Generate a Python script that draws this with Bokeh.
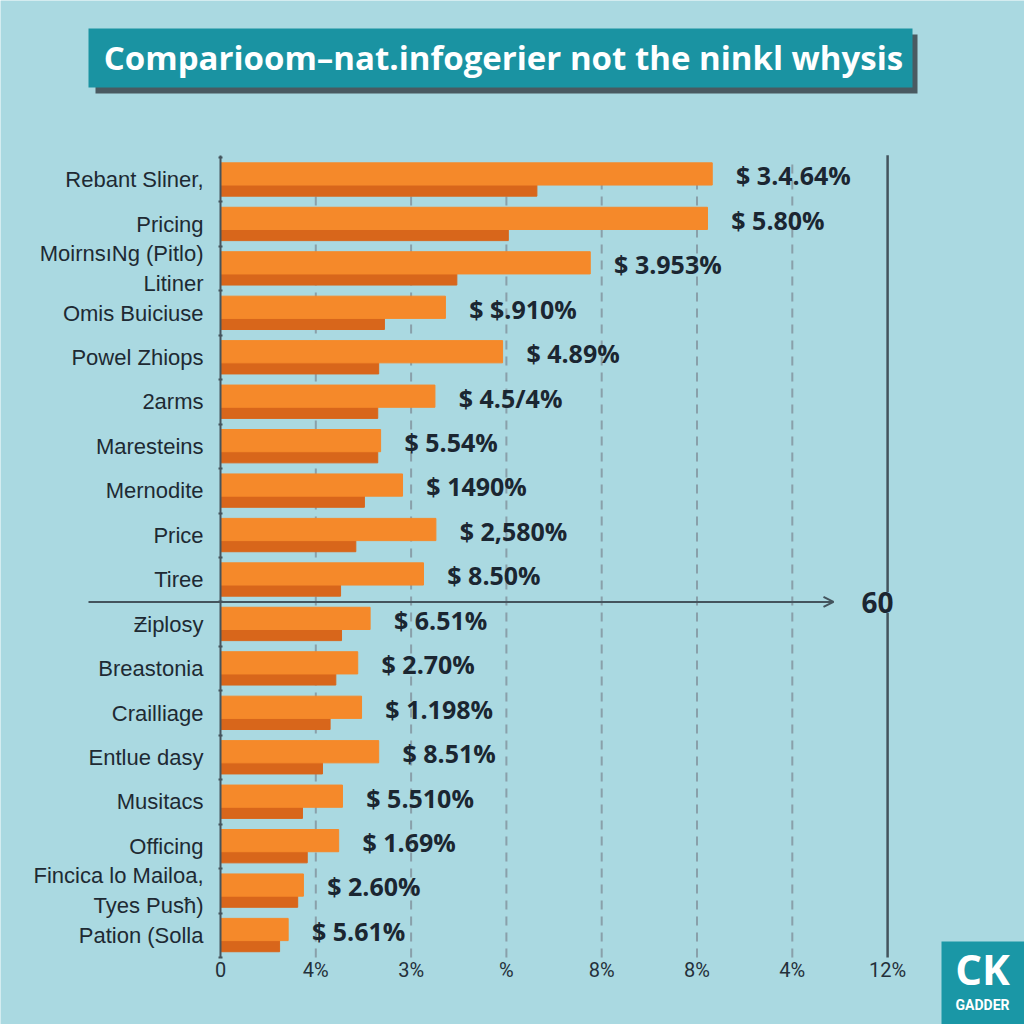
from bokeh.plotting import figure
from bokeh.models import (Range1d, ColumnDataSource, FixedTicker, Label,
                          BoxAnnotation, Arrow, OpenHead)
from bokeh.core.properties import value
from bokeh.embed import file_html
from bokeh.resources import INLINE

# ---------------- data ----------------
categories = [
    "Rebant Sliner,", "Pricing", "MoirnsıNg (Pitlo)\nLitiner", "Omis Buiciuse",
    "Powel Zhiops", "2arms", "Maresteins", "Mernodite", "Price", "Tiree",
    "Ƶiplosy", "Breastonia", "Crailliage", "Entlue dasy", "Musitacs",
    "Officing", "Fincica lo Mailoa,\nTyes Pusħ)", "Pation (Solla",
]
primary = [5.16, 5.11, 3.88, 2.36, 2.96, 2.25, 1.68, 1.91, 2.26, 2.13,
           1.57, 1.44, 1.48, 1.66, 1.28, 1.24, 0.87, 0.71]
secondary = [3.32, 3.02, 2.48, 1.72, 1.66, 1.65, 1.65, 1.51, 1.42, 1.26,
             1.27, 1.21, 1.15, 1.07, 0.86, 0.91, 0.81, 0.62]
value_labels = ["$ 3.4.64%", "$ 5.80%", "$ 3.953%", "$ $.910%", "$ 4.89%",
                "$ 4.5/4%", "$ 5.54%", "$ 1490%", "$ 2,580%", "$ 8.50%",
                "$ 6.51%", "$ 2.70%", "$ 1.198%", "$ 8.51%", "$ 5.510%",
                "$ 1.69%", "$ 2.60%", "$ 5.61%"]
x_ticks = [0, 1, 2, 3, 4, 5, 6, 7]
x_tick_labels = ["0", "4%", "3%", "%", "8%", "8%", "4%", "12%"]
title_text = "Comparioom–nat.infogerier not the ninkl whysis"
divider_after = 10         # divider arrow drawn after the 10th category ("Tiree")
divider_label = "60"
logo_mark = "CK"
logo_text = "GADDER"

# ---------------- style / layout ----------------
BG = "#aad9e1"
ORANGE = "#f5892a"
DARK_ORANGE = "#d8661b"
TEAL = "#1a93a2"
INK = "#1b2631"
LINE = "#44545d"

W, H = 1024, 1024
FL, FT, FB = 220, 157, 957                # axis origin / category band in pixels
PX_PER_X = 95.3
N = len(categories)
PX_PER_Y = (FB - FT) / N

def fx(px):
    return (px - FL) / PX_PER_X

def fy(py):
    return N - (py - FT) / PX_PER_Y

# category rows: first category at the top
row_y = [N - 0.5 - i for i in range(N)]
row_edges = [float(i) for i in range(N + 1)]

p = figure(
    width=W, height=H,
    x_range=Range1d(fx(0), fx(W)), y_range=Range1d(fy(H), fy(0)),
    output_backend="svg", toolbar_location=None, title=None,
    min_border=0, min_border_left=0, min_border_right=0,
    min_border_top=0, min_border_bottom=0,
)
p.background_fill_color = BG
p.border_fill_color = BG
p.outline_line_color = None
p.xgrid.visible = False
p.ygrid.visible = False

src = ColumnDataSource(dict(
    y=row_y, primary=primary, secondary=secondary, lbl=value_labels,
    lx=[v + 0.25 for v in primary],
    y_top=[v + 0.13 for v in row_y], y_bot=[v - 0.24 for v in row_y],
    y_lbl=[v + 0.1 for v in row_y],
))

# grid lines (vertical, within the category band)
grid_src = ColumnDataSource(dict(x=x_ticks[1:-1]))
p.segment(x0="x", x1="x", y0=0, y1=N, source=grid_src,
          line_color="#8495a0", line_width=2, line_dash="9 7", line_alpha=0.85)
p.segment(x0=x_ticks[-1], x1=x_ticks[-1], y0=0, y1=N + 0.05,
          line_color=LINE, line_width=2.5)

# bars
p.hbar(y="y_bot", left=0, right="secondary", height=0.26,
       color=DARK_ORANGE, source=src)
p.hbar(y="y_top", left=0, right="primary", height=0.5,
       color=ORANGE, source=src)

# value labels
p.text(x="lx", y="y_lbl", text="lbl", source=src,
       text_font=value("Open Sans"), text_font_style="bold",
       text_font_size="25px", text_color=INK, text_baseline="middle",
       text_align="left")

# x axis (fixed at the bottom of the category band)
xa = p.xaxis[0]
xa.fixed_location = 0
xa.ticker = FixedTicker(ticks=x_ticks)
xa.major_label_overrides = {t: l for t, l in zip(x_ticks, x_tick_labels)}
xa.axis_line_color = None
xa.major_tick_line_color = None
xa.minor_tick_line_color = None
xa.major_tick_out = 0
xa.major_tick_in = 0
xa.major_label_standoff = 0
xa.major_label_text_font = "Roboto"
xa.major_label_text_font_size = "20px"
xa.major_label_text_color = "#24303a"

# y axis (fixed at x = 0)
ya = p.yaxis[0]
ya.fixed_location = 0
ya.bounds = (0, N + 0.05)
ya.ticker = FixedTicker(ticks=row_y, minor_ticks=row_edges)
ya.major_label_overrides = {t: c for t, c in zip(row_y, categories)}
ya.axis_line_color = LINE
ya.axis_line_width = 2
ya.major_tick_line_color = None
ya.major_tick_out = 0
ya.major_tick_in = 0
ya.minor_tick_line_color = LINE
ya.minor_tick_line_width = 2
ya.minor_tick_out = 2
ya.minor_tick_in = 2
ya.major_label_standoff = 15
ya.major_label_text_font = "Liberation Sans"
ya.major_label_text_font_size = "22px"
ya.major_label_text_color = "#1e2a33"

# divider arrow + label
div_y = N - divider_after
p.add_layout(Arrow(end=OpenHead(size=10, line_color=LINE, line_width=2),
                   x_start=fx(88), y_start=div_y,
                   x_end=fx(833), y_end=div_y,
                   line_color=LINE, line_width=2))
p.add_layout(Label(x=fx(877), y=fy(602), text=divider_label,
                   text_font="Open Sans", text_font_style="bold",
                   text_font_size="28px", text_color=INK,
                   text_align="center", text_baseline="middle",
                   background_fill_color=BG))

# title banner
p.add_layout(BoxAnnotation(left=fx(95), right=fx(917), top=fy(34), bottom=fy(93),
                           fill_color="#4a5a61", fill_alpha=1, line_color=None))
p.add_layout(BoxAnnotation(left=fx(88), right=fx(912), top=fy(28), bottom=fy(87),
                           fill_color=TEAL, fill_alpha=1, line_color=None))
p.add_layout(Label(x=fx(503), y=fy(57), text=title_text,
                   text_font="Open Sans", text_font_style="bold",
                   text_font_size="33px", text_color="white",
                   text_align="center", text_baseline="middle"))

# logo
p.add_layout(BoxAnnotation(left=fx(941), right=fx(1030), top=fy(941), bottom=fy(1030),
                           fill_color="#1a97a6", fill_alpha=1, line_color=None))
p.add_layout(Label(x=fx(982), y=fy(968), text=logo_mark,
                   text_font="Open Sans", text_font_style="bold",
                   text_font_size="42px", text_color="white",
                   text_align="center", text_baseline="middle"))
p.add_layout(Label(x=fx(982), y=fy(1004), text=logo_text,
                   text_font="Roboto", text_font_style="bold",
                   text_font_size="14px", text_color="white",
                   text_align="center", text_baseline="middle"))

open("out.html", "w").write(file_html(p, INLINE))
